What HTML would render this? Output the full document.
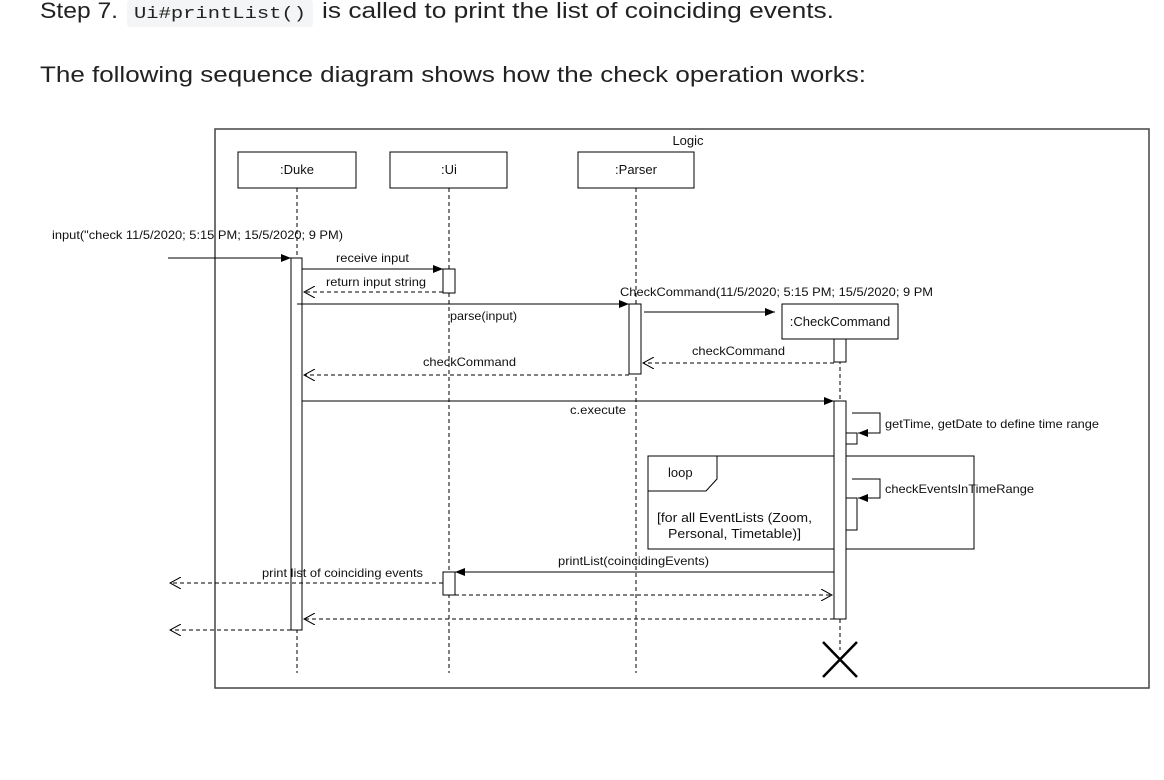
<!DOCTYPE html>
<html><head><meta charset="utf-8"><style>
html,body{margin:0;padding:0;background:#fff;width:1164px;height:780px;overflow:hidden}
</style></head><body>
<svg width="1164" height="780" xmlns="http://www.w3.org/2000/svg" font-family="Liberation Sans, sans-serif">
<defs>
<marker id="f" markerWidth="10" markerHeight="8" refX="10" refY="4" orient="auto" markerUnits="userSpaceOnUse"><path d="M0,0 L10,4 L0,8 z" fill="#000"/></marker>
<marker id="o" markerWidth="12" markerHeight="12" refX="11" refY="6" orient="auto" markerUnits="userSpaceOnUse"><path d="M0,0 L11,6 L0,12" fill="none" stroke="#000" stroke-width="1"/></marker>
</defs>
<rect x="127" y="0" width="186" height="27" rx="3" fill="#f4f5f6"/>
<text x="40" y="18" font-size="22" fill="#222" textLength="78" lengthAdjust="spacingAndGlyphs">Step 7.</text>
<text x="134" y="18" font-size="17" font-family="Liberation Mono, monospace" fill="#222" textLength="172" lengthAdjust="spacingAndGlyphs">Ui#printList()</text>
<text x="322" y="18" font-size="22" fill="#222" textLength="512" lengthAdjust="spacingAndGlyphs">is called to print the list of coinciding events.</text>
<text x="40" y="82" font-size="22" fill="#222" textLength="826" lengthAdjust="spacingAndGlyphs">The following sequence diagram shows how the check operation works:</text>

<g stroke="#000" fill="none" stroke-width="1">
<rect x="215" y="129" width="934" height="559" stroke="#444" stroke-width="1.5"/>
<rect x="238" y="152" width="118" height="36" fill="#fff"/>
<rect x="390" y="152" width="117" height="36" fill="#fff"/>
<rect x="578" y="152" width="116" height="36" fill="#fff"/>
<g stroke-dasharray="4,3">
<line x1="297" y1="188" x2="297" y2="673"/>
<line x1="449" y1="188" x2="449" y2="673"/>
<line x1="636" y1="188" x2="636" y2="673"/>
<line x1="840" y1="339" x2="840" y2="650"/>
</g>
<rect x="648" y="456" width="326" height="93"/>
<path d="M648,491 H706 L717,479 V456"/>
<rect x="291" y="258" width="11" height="372" fill="#fff"/>
<rect x="443" y="269" width="12" height="24" fill="#fff"/>
<rect x="443" y="572" width="12" height="23" fill="#fff"/>
<rect x="629" y="304" width="12" height="70" fill="#fff"/>
<rect x="782" y="304" width="116" height="35" fill="#fff"/>
<rect x="834" y="339" width="12" height="23" fill="#fff"/>
<rect x="834" y="401" width="12" height="218" fill="#fff"/>
<rect x="846" y="433" width="11" height="11" fill="#fff"/>
<rect x="846" y="498" width="11" height="32" fill="#fff"/>
<path d="M852,413 H880 V433 H858" marker-end="url(#f)"/>
<path d="M852,479 H880 V498 H858" marker-end="url(#f)"/>
<line x1="168" y1="258" x2="291" y2="258" marker-end="url(#f)"/>
<line x1="302" y1="269" x2="443" y2="269" marker-end="url(#f)"/>
<line x1="297" y1="304" x2="629" y2="304" marker-end="url(#f)"/>
<line x1="644" y1="312" x2="775" y2="312" marker-end="url(#f)"/>
<line x1="302" y1="401" x2="834" y2="401" marker-end="url(#f)"/>
<line x1="834" y1="572" x2="455" y2="572" marker-end="url(#f)"/>
<g stroke-dasharray="4,3">
<line x1="443" y1="292" x2="304" y2="292" marker-end="url(#o)"/>
<line x1="834" y1="363" x2="643" y2="363" marker-end="url(#o)"/>
<line x1="629" y1="375" x2="304" y2="375" marker-end="url(#o)"/>
<line x1="443" y1="583" x2="170" y2="583" marker-end="url(#o)"/>
<line x1="455" y1="595" x2="832" y2="595" marker-end="url(#o)"/>
<line x1="834" y1="619" x2="304" y2="619" marker-end="url(#o)"/>
<line x1="291" y1="630" x2="170" y2="630" marker-end="url(#o)"/>
</g>
<path d="M823,642 L857,677 M857,642 L823,677" stroke-width="2.5"/>
</g>
<g font-size="12" fill="#111">
<text x="688" y="145" text-anchor="middle" font-size="13">Logic</text>
<text x="297" y="174" text-anchor="middle" font-size="13">:Duke</text>
<text x="449" y="174" text-anchor="middle" font-size="13">:Ui</text>
<text x="636" y="174" text-anchor="middle" font-size="13">:Parser</text>
<text x="840" y="326" text-anchor="middle" font-size="13">:CheckCommand</text>
<text x="52" y="239" textLength="291" lengthAdjust="spacingAndGlyphs">input("check 11/5/2020; 5:15 PM; 15/5/2020; 9 PM)</text>
<text x="336" y="262" textLength="73" lengthAdjust="spacingAndGlyphs">receive input</text>
<text x="326" y="286" textLength="100" lengthAdjust="spacingAndGlyphs">return input string</text>
<text x="450" y="320" textLength="67" lengthAdjust="spacingAndGlyphs">parse(input)</text>
<text x="620" y="296" textLength="313" lengthAdjust="spacingAndGlyphs">CheckCommand(11/5/2020; 5:15 PM; 15/5/2020; 9 PM</text>
<text x="692" y="355" textLength="93" lengthAdjust="spacingAndGlyphs">checkCommand</text>
<text x="423" y="366" textLength="93" lengthAdjust="spacingAndGlyphs">checkCommand</text>
<text x="570" y="414" textLength="56" lengthAdjust="spacingAndGlyphs">c.execute</text>
<text x="885" y="428" textLength="214" lengthAdjust="spacingAndGlyphs">getTime, getDate to define time range</text>
<text x="885" y="493" textLength="149" lengthAdjust="spacingAndGlyphs">checkEventsInTimeRange</text>
<text x="668" y="477" font-size="13">loop</text>
<text x="657" y="522" font-size="13" textLength="155" lengthAdjust="spacingAndGlyphs">[for all EventLists (Zoom,</text>
<text x="668" y="538" font-size="13" textLength="133" lengthAdjust="spacingAndGlyphs">Personal, Timetable)]</text>
<text x="558" y="565" textLength="151" lengthAdjust="spacingAndGlyphs">printList(coincidingEvents)</text>
<text x="262" y="577" textLength="161" lengthAdjust="spacingAndGlyphs">print list of coinciding events</text>
</g>
</svg>
</body></html>
